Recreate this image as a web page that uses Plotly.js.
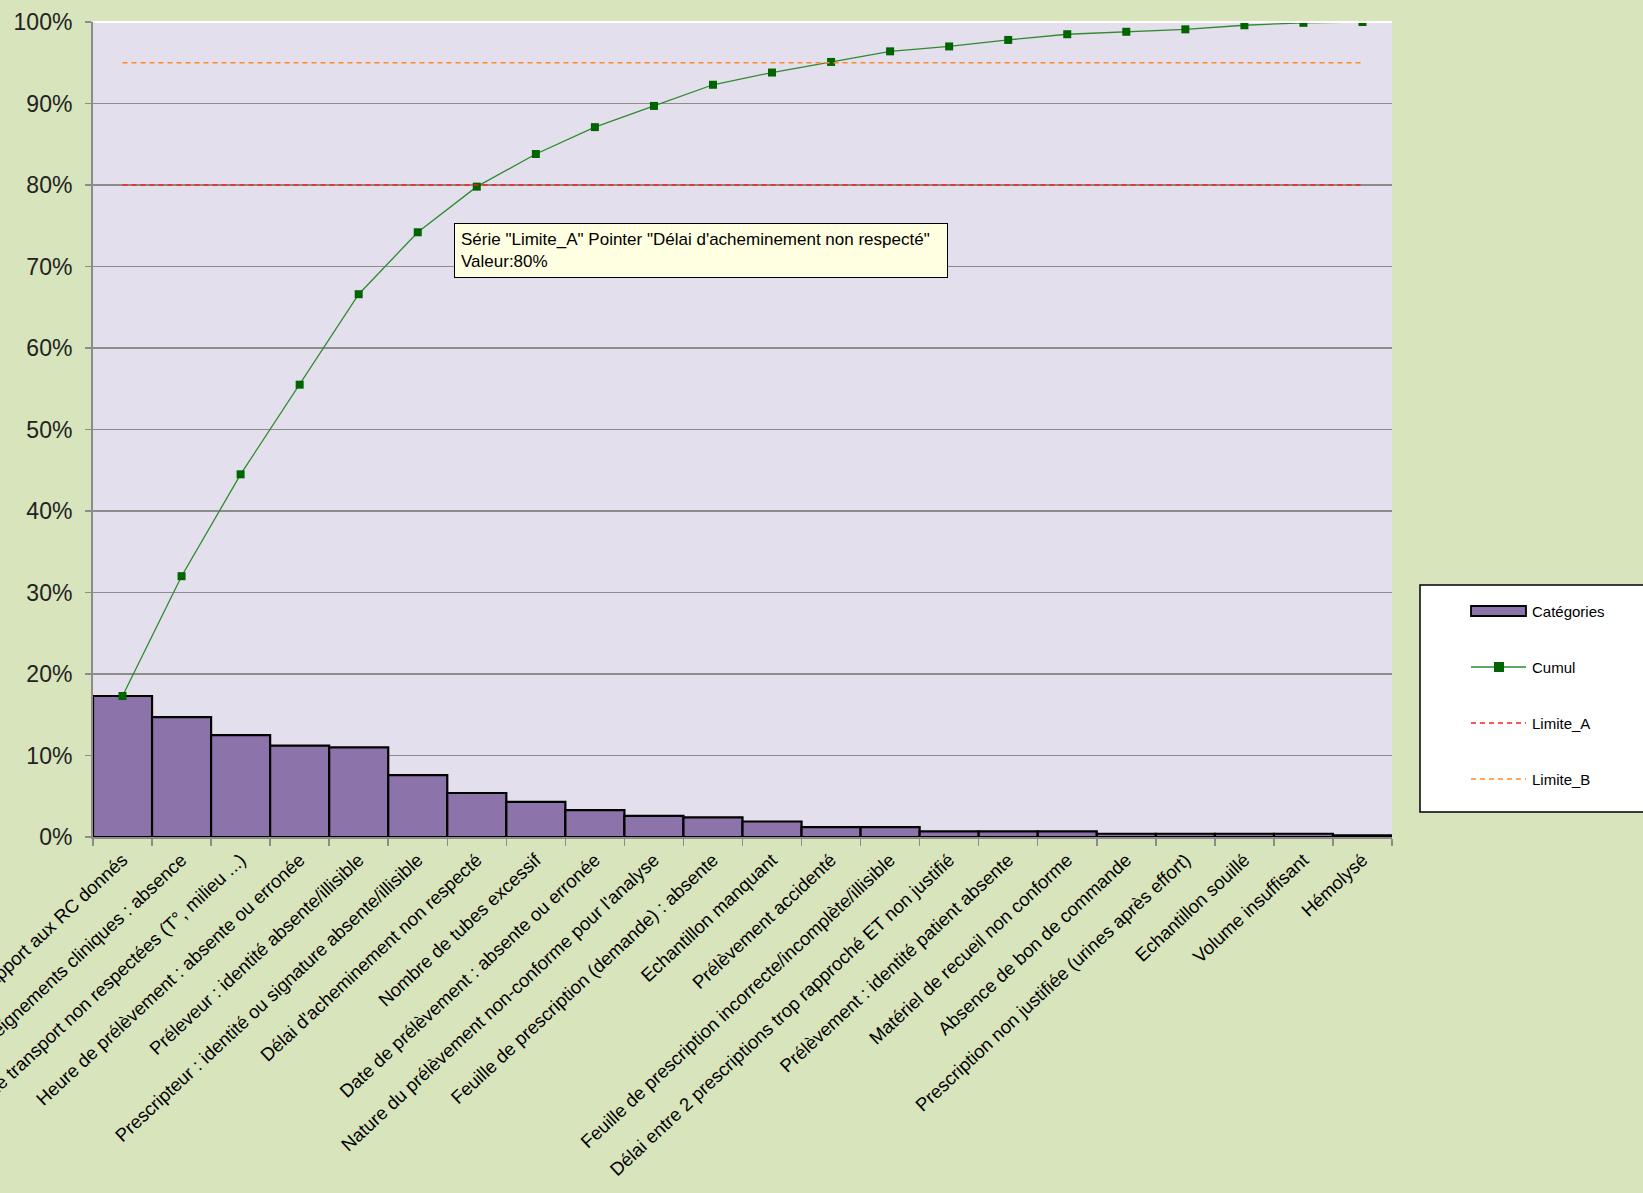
<!DOCTYPE html>
<html>
<head>
<meta charset="utf-8">
<script src="https://cdn.plot.ly/plotly-3.0.1.min.js"></script>
<style>html,body{margin:0;padding:0;background:#D8E4BC;}#chart{width:1643px;height:1193px;}</style>
</head>
<body>
<div id="chart"></div>
<script>
const categories = [
  "Non-conformité par rapport aux RC donnés",
  "Renseignements cliniques : absence",
  "Conditions de transport non respectées (T°, milieu ...)",
  "Heure de prélèvement : absente ou erronée",
  "Préleveur : identité absente/illisible",
  "Prescripteur : identité ou signature absente/illisible",
  "Délai d'acheminement non respecté",
  "Nombre de tubes excessif",
  "Date de prélèvement : absente ou erronée",
  "Nature du prélèvement non-conforme pour l'analyse",
  "Feuille de prescription (demande) : absente",
  "Echantillon manquant",
  "Prélèvement accidenté",
  "Feuille de prescription incorrecte/incomplète/illisible",
  "Délai entre 2 prescriptions trop rapproché ET non justifié",
  "Prélèvement : identité patient absente",
  "Matériel de recueil non conforme",
  "Absence de bon de commande",
  "Prescription non justifiée (urines après effort)",
  "Echantillon souillé",
  "Volume insuffisant",
  "Hémolysé"
];
const categoryShare = [0.173, 0.147, 0.125, 0.112, 0.110, 0.076, 0.054, 0.043, 0.033, 0.026, 0.024, 0.019, 0.012, 0.012, 0.007, 0.007, 0.007, 0.004, 0.004, 0.004, 0.004, 0.002];
const cumul = [0.173, 0.320, 0.445, 0.555, 0.666, 0.742, 0.798, 0.838, 0.871, 0.897, 0.923, 0.938, 0.951, 0.964, 0.970, 0.978, 0.985, 0.988, 0.991, 0.996, 0.999, 1.000];
const limiteA = categories.map(() => 0.80);
const limiteB = categories.map(() => 0.95);
const seriesNames = ["Catégories", "Cumul", "Limite_A", "Limite_B"];
const tooltipText = "Série \"Limite_A\" Pointer \"Délai d'acheminement non respecté\"<br>Valeur:80%";

const FONT = 'Liberation Sans, Arial, sans-serif';
const W = 1643, H = 1193;
const M = {l:93, r:251, t:22, b:356};
const PW = W - M.l - M.r, PH = H - M.t - M.b;
const px = X => (X - M.l) / PW;
const py = Y => (H - M.b - Y) / PH;

const traces = [
  {type:'bar', name:seriesNames[0], x:categories, y:categoryShare,
   marker:{color:'#8C74AA', line:{color:'#000000', width:2.2}}},
  {type:'scatter', mode:'lines+markers', name:seriesNames[1], x:categories, y:cumul,
   line:{color:'#2E8B2E', width:1.3}, marker:{symbol:'square', size:8, color:'#006400'}},
  {type:'scatter', mode:'lines', name:seriesNames[2], x:categories, y:limiteA,
   line:{color:'#FF1A1A', width:1.6, dash:'5px,4px'}},
  {type:'scatter', mode:'lines', name:seriesNames[3], x:categories, y:limiteB,
   line:{color:'#FF8A2A', width:1.6, dash:'5px,4px'}}
];

// manual legend (Excel-like box)
const legBox = {x0:1420, x1:1660, y0:585, y1:812};
const rowY = [611, 667, 723, 779];
const shapes = [
  {type:'line', xref:'paper', yref:'paper', x0:0, x1:1, y0:1, y1:1, line:{color:'#ffffff', width:2}},
  {type:'rect', xref:'paper', yref:'paper', x0:px(legBox.x0), x1:px(legBox.x1), y0:py(legBox.y1), y1:py(legBox.y0),
   fillcolor:'#ffffff', line:{color:'#000000', width:1.5}},
  {type:'rect', xref:'paper', yref:'paper', x0:px(1471), x1:px(1526), y0:py(rowY[0]+5), y1:py(rowY[0]-5),
   fillcolor:'#8C74AA', line:{color:'#000000', width:1.8}},
  {type:'line', xref:'paper', yref:'paper', x0:px(1471), x1:px(1526), y0:py(rowY[1]), y1:py(rowY[1]),
   line:{color:'#2E8B2E', width:1.5}},
  {type:'rect', xref:'paper', yref:'paper', x0:px(1494), x1:px(1504), y0:py(rowY[1]+5), y1:py(rowY[1]-5),
   fillcolor:'#006400', line:{color:'#006400', width:0}},
  {type:'line', xref:'paper', yref:'paper', x0:px(1471), x1:px(1526), y0:py(rowY[2]), y1:py(rowY[2]),
   line:{color:'#FF1A1A', width:1.6, dash:'5px,4px'}},
  {type:'line', xref:'paper', yref:'paper', x0:px(1471), x1:px(1526), y0:py(rowY[3]), y1:py(rowY[3]),
   line:{color:'#FF8A2A', width:1.6, dash:'5px,4px'}}
];
const legendAnn = seriesNames.map((n, i) => ({
  xref:'paper', yref:'paper', x:px(1530), y:py(rowY[i]), xanchor:'left', yanchor:'middle',
  text:n, showarrow:false, font:{size:15, family:FONT, color:'#000'}
}));

const layout = {
  width:W, height:H,
  paper_bgcolor:'#D8E4BC', plot_bgcolor:'#E4DFEC',
  margin:M,
  font:{family:FONT, color:'#000'},
  bargap:0,
  hovermode:false,
  showlegend:false,
  xaxis:{type:'category', range:[-0.5, categories.length - 0.5], tickangle:-43, tickson:'boundaries',
         ticks:'outside', ticklen:7, tickcolor:'#8c8c8c', tickwidth:1.5, showline:true,
         linecolor:'#8c8c8c', linewidth:2, showgrid:false, automargin:false, ticklabelstandoff:3,
         tickfont:{size:18.5, family:FONT, color:'#000'}},
  yaxis:{range:[0,1], dtick:0.1, tickformat:'.0%', ticks:'outside', ticklen:6, tickcolor:'#8c8c8c',
         tickwidth:1.5, showline:true, linecolor:'#8c8c8c', linewidth:2, showgrid:true,
         gridcolor:'#8c8c8c', gridwidth:1.6, zeroline:false, automargin:false, ticklabelstandoff:8,
         tickfont:{size:23, family:FONT, color:'#222'}},
  shapes:shapes,
  annotations:[{xref:'paper', yref:'paper', x:px(454), y:py(223), xanchor:'left', yanchor:'top',
    text:tooltipText, showarrow:false, align:'left', bgcolor:'#FFFFE1', bordercolor:'#000000',
    borderwidth:1, borderpad:6, width:480,
    font:{size:17, family:FONT, color:'#000'}}].concat(legendAnn)
};

Plotly.newPlot('chart', traces, layout, {displayModeBar:false, staticPlot:true});
</script>
</body>
</html>
